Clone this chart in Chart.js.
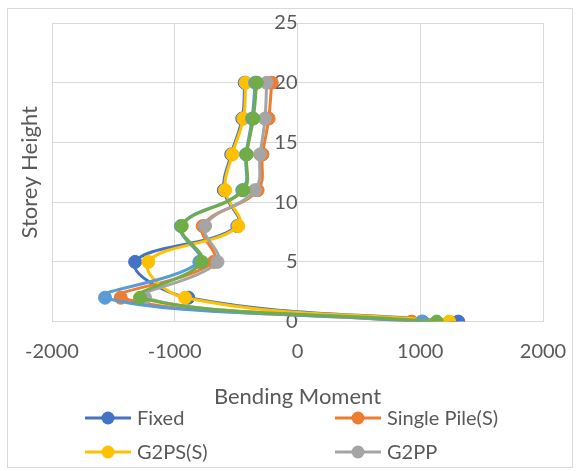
<!DOCTYPE html>
<html>
<head>
<meta charset="utf-8">
<script src="https://cdn.jsdelivr.net/npm/chart.js@4.4.1/dist/chart.umd.min.js"></script>
<style>
  html, body { margin: 0; padding: 0; background: #fff; }
  #wrap { width: 579px; height: 471px; position: relative; }
</style>
</head>
<body>
<div id="wrap"><canvas id="myChart" width="579" height="471"></canvas></div>
<script>
// storey levels (y) and bending moment per series (x)
const storeys = [0, 2, 5, 8, 11, 14, 17, 20];
const fixed = [1310, -890, -1323, -490, -600, -540, -450, -430];
const singlePile = [930, -1440, -683, -772, -325, -285, -235, -210];
const g2psS = [1236, -916, -1215, -482, -590, -531, -441, -422];
const g2pp = [1010, -1242, -652, -753, -346, -305, -265, -251];
const series5 = [1020, -1568, -800, -950, -450, -420, -370, -345];
const series6 = [1134, -1283, -780, -943, -441, -414, -360, -332];

const xTicks = [-2000, -1000, 0, 1000, 2000];
const yTicks = [0, 5, 10, 15, 20, 25];

const FONT = 'Lato, "Open Sans", sans-serif';
const TEXT = '#595959';
const GRID = '#D9D9D9';

const toPoints = vals => vals.map((v, i) => ({ x: v, y: storeys[i] }));

// excel paints later series on top, chart.js does the reverse -> negative order
const mk = (label, vals, color, idx) => ({
  label: label,
  data: toPoints(vals),
  order: -idx,
  showLine: true,
  borderColor: color,
  backgroundColor: color,
  borderWidth: 3,
  pointRadius: 6.5,
  pointHoverRadius: 6.5,
  pointBorderWidth: 1,
  pointBorderColor: color,
  tension: 0.4
});

// let layout.padding alone decide where the plot box sits
const noPad = axis => {
  axis.paddingLeft = 0;
  axis.paddingRight = 0;
  axis.paddingTop = 0;
  axis.paddingBottom = 0;
};

// frame + rotated y title + excel style two column legend
const extras = {
  id: 'extras',
  beforeDraw(chart) {
    const ctx = chart.ctx;
    ctx.save();
    ctx.fillStyle = '#fff';
    ctx.fillRect(0, 0, chart.width, chart.height);
    ctx.strokeStyle = GRID;
    ctx.lineWidth = 1;
    ctx.strokeRect(7.5, 8.5, 565, 459);
    ctx.restore();
  },
  afterDraw(chart) {
    const ctx = chart.ctx;
    const area = chart.chartArea;
    ctx.save();
    ctx.fillStyle = TEXT;
    ctx.font = '22px ' + FONT;
    ctx.textAlign = 'center';
    ctx.textBaseline = 'middle';
    ctx.translate(30, (area.top + area.bottom) / 2);
    ctx.rotate(-Math.PI / 2);
    ctx.fillText('Storey Height', 0, 0);
    ctx.restore();

    const cols = [85, 335];
    const rows = [418, 452];
    ctx.save();
    ctx.font = '20px ' + FONT;
    ctx.textBaseline = 'middle';
    ctx.textAlign = 'left';
    chart.data.datasets.slice(0, 4).forEach((ds, i) => {
      const x = cols[i % 2];
      const y = rows[Math.floor(i / 2)];
      ctx.strokeStyle = ds.borderColor;
      ctx.lineWidth = 3;
      ctx.beginPath();
      ctx.moveTo(x, y);
      ctx.lineTo(x + 46, y);
      ctx.stroke();
      ctx.fillStyle = ds.backgroundColor;
      ctx.beginPath();
      ctx.arc(x + 23, y, 6.5, 0, Math.PI * 2);
      ctx.fill();
      ctx.fillStyle = TEXT;
      ctx.fillText(ds.label, x + 52, y + 1);
    });
    ctx.restore();
  }
};

new Chart(document.getElementById('myChart').getContext('2d'), {
  type: 'scatter',
  data: {
    datasets: [
      mk('Fixed', fixed, '#4472C4', 0),
      mk('Single Pile(S)', singlePile, '#ED7D31', 1),
      mk('G2PS(S)', g2psS, '#FFC000', 2),
      mk('G2PP', g2pp, '#A5A5A5', 3),
      mk('Series 5', series5, '#5B9BD5', 4),
      mk('Series 6', series6, '#70AD47', 5)
    ]
  },
  options: {
    responsive: false,
    animation: false,
    layout: { padding: { left: 52, right: 36, top: 23, bottom: 61 } },
    plugins: {
      legend: { display: false },
      tooltip: { enabled: false }
    },
    scales: {
      x: {
        type: 'linear',
        min: xTicks[0],
        max: xTicks[xTicks.length - 1],
        afterBuildTicks: axis => { axis.ticks = xTicks.map(v => ({ value: v })); },
        afterFit: noPad,
        grid: { color: GRID, drawTicks: false },
        border: { color: GRID },
        ticks: {
          color: TEXT,
          font: { family: FONT, size: 20 },
          padding: 18,
          callback: v => String(v)
        },
        title: {
          display: true,
          text: 'Bending Moment',
          color: TEXT,
          font: { family: FONT, size: 22 },
          padding: { top: 2, bottom: 0 }
        }
      },
      y: {
        type: 'linear',
        position: { x: 0 },
        min: yTicks[0],
        max: yTicks[yTicks.length - 1],
        afterBuildTicks: axis => { axis.ticks = yTicks.map(v => ({ value: v })); },
        afterFit: noPad,
        grid: { color: GRID, drawTicks: false },
        border: { color: GRID },
        ticks: {
          color: TEXT,
          font: { family: FONT, size: 20 },
          padding: 22,
          callback: v => String(v)
        }
      }
    }
  },
  plugins: [extras]
});
</script>
</body>
</html>
